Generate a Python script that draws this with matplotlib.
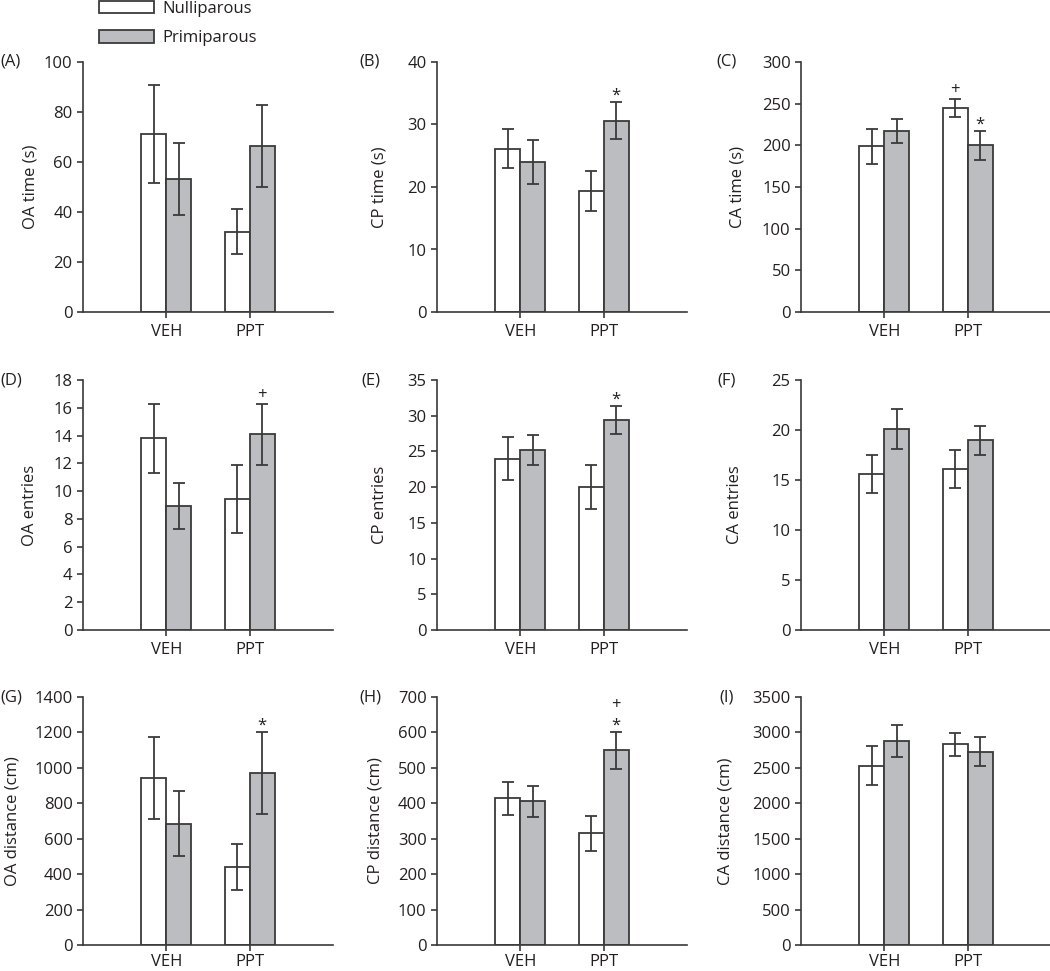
import matplotlib
matplotlib.use("Agg")
import matplotlib.pyplot as plt
from matplotlib.patches import Patch
import numpy as np

plt.rcParams['font.family'] = ['Open Sans', 'DejaVu Sans']

groups = ["VEH", "PPT"]
series = ["Nulliparous", "Primiparous"]

panel_letters = ["(A)", "(B)", "(C)", "(D)", "(E)", "(F)", "(G)", "(H)", "(I)"]
ylabels = ["OA time (s)", "CP time (s)", "CA time (s)",
           "OA entries", "CP entries", "CA entries",
           "OA distance (cm)", "CP distance (cm)", "CA distance (cm)"]
ymax = [100, 40, 300, 18, 35, 25, 1400, 700, 3500]
ystep = [20, 10, 50, 2, 5, 5, 200, 100, 500]

# means [VEH, PPT] per series
null_mean = [
    [71.1, 32.1], [26.1, 19.4], [198.9, 244.8],
    [13.8, 9.4], [24.0, 20.0], [15.6, 16.1],
    [943, 441], [414, 315], [2533, 2833],
]
null_err = [
    [19.7, 9.0], [3.1, 3.2], [21.0, 11.0],
    [2.5, 2.45], [3.0, 3.1], [1.9, 1.9],
    [230, 128], [46, 50], [270, 165],
]
prim_mean = [
    [53.2, 66.4], [24.0, 30.6], [217.2, 200.0],
    [8.9, 14.1], [25.2, 29.4], [20.1, 19.0],
    [684, 971], [406, 550], [2880, 2730],
]
prim_err = [
    [14.5, 16.4], [3.5, 3.0], [14.7, 17.4],
    [1.65, 2.2], [2.1, 1.95], [2.0, 1.45],
    [184, 230], [44, 52], [220, 210],
]
# significance marks: (panel index, group index, series index, symbol, stack level)
marks = [
    (1, 1, 1, "*", 0),
    (2, 1, 0, "+", 0),
    (2, 1, 1, "*", 0),
    (3, 1, 1, "+", 0),
    (4, 1, 1, "*", 0),
    (6, 1, 1, "*", 0),
    (7, 1, 1, "*", 0),
    (7, 1, 1, "+", 1),
]

W, H = 1050, 971
fig = plt.figure(figsize=(W / 100, H / 100), dpi=100)

col_left = [83, 437, 801]
row_top = [62, 380, 697]
row_h = [250, 250, 248]
ax_w = 250
label_right = [38, 388, 745, 38, 388, 743, 20, 383, 733]
letter_x = [0, 359, 716, 0, 361, 717, 0, 359, 719]
xpad = [4.5, 4.5, 2.3]

txt = "#231f20"
edge = "#3a3a3a"
gray = "#bcbdc0"
fs = 12
bw = 0.3
x = np.arange(1, len(groups) + 1)

for i in range(9):
    r, c = divmod(i, 3)
    left = col_left[c] / W
    bottom = (H - row_top[r] - row_h[r]) / H
    ax = fig.add_axes([left, bottom, ax_w / W, row_h[r] / H])
    ax.bar(x - bw / 2, null_mean[i], bw, color="white", edgecolor=edge, linewidth=1.3, zorder=2)
    ax.bar(x + bw / 2, prim_mean[i], bw, color=gray, edgecolor=edge, linewidth=1.3, zorder=2)
    ax.errorbar(x - bw / 2, null_mean[i], yerr=null_err[i], fmt="none", ecolor=edge,
                elinewidth=1.3, capsize=4.3, capthick=1.3, zorder=3)
    ax.errorbar(x + bw / 2, prim_mean[i], yerr=prim_err[i], fmt="none", ecolor=edge,
                elinewidth=1.3, capsize=4.3, capthick=1.3, zorder=3)
    ax.set_xlim(0, 3)
    ax.set_ylim(0, ymax[i])
    ax.set_yticks(np.arange(0, ymax[i] + ystep[i] / 2, ystep[i]))
    ax.set_xticks(x)
    ax.set_xticklabels(groups)
    for s in ["top", "right"]:
        ax.spines[s].set_visible(False)
    for s in ["left", "bottom"]:
        ax.spines[s].set_color(edge)
        ax.spines[s].set_linewidth(1.2)
    ax.tick_params(axis="y", direction="out", length=4.5, width=1.2, color=edge,
                   labelsize=fs, labelcolor=txt, pad=3)
    ax.tick_params(axis="x", direction="out", length=4, width=1.2, color=edge,
                   labelsize=fs, labelcolor=txt, pad=xpad[r])
    ax.set_ylabel(ylabels[i], fontsize=fs, color=txt)
    ax.yaxis.set_label_coords((label_right[i] - col_left[c]) / ax_w, 0.5)
    fig.text(letter_x[i] / W, 1 - row_top[r] / H, panel_letters[i], fontsize=fs,
             color=txt, ha="left", va="center")
    for (p, g, s, sym, lvl) in marks:
        if p != i:
            continue
        mean = null_mean if s == 0 else prim_mean
        err = null_err if s == 0 else prim_err
        xs = x[g] + (-bw / 2 if s == 0 else bw / 2)
        if sym == "*":
            dy, size = 4.5, 12
        else:
            dy, size = 6.5, 12
        dy += lvl * 12.5
        ax.annotate(sym, (xs, mean[i][g] + err[i][g]), xytext=(0, dy),
                    textcoords="offset points", ha="center", va="center",
                    fontsize=size, color=txt)

handles = [Patch(facecolor="white", edgecolor=edge, linewidth=1.3),
           Patch(facecolor=gray, edgecolor=edge, linewidth=1.3)]
fig.legend(handles, series, loc="upper left", bbox_to_anchor=(99 / W, 1 - 1 / H),
           frameon=False, fontsize=fs, handlelength=3.3, handleheight=0.75,
           handletextpad=0.5, labelspacing=0.8, borderpad=0, borderaxespad=0,
           labelcolor=txt)

fig.savefig("out.png", dpi=100)
